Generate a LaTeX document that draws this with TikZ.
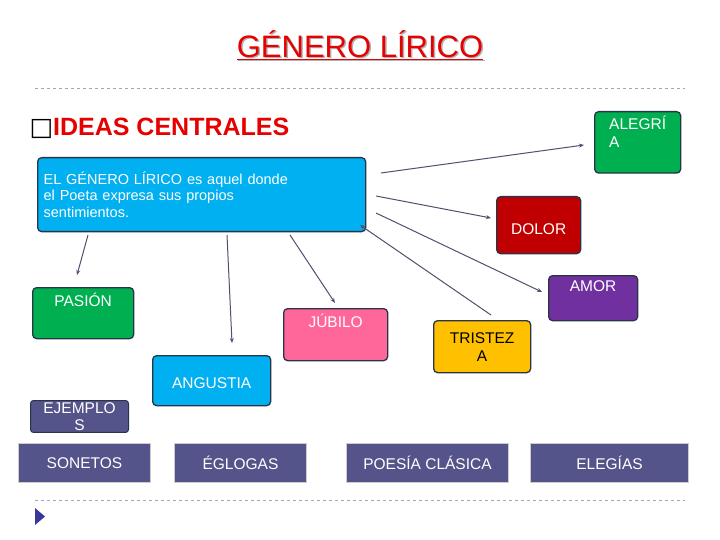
\documentclass[tikz,border=0pt]{standalone}
\usepackage{fontspec}
\setmainfont{Liberation Sans}
\newfontfamily\symfont{DejaVu Sans}
\usetikzlibrary{arrows.meta}
\definecolor{my-cyan}{RGB}{0,176,240}
\definecolor{my-green}{RGB}{0,176,80}
\definecolor{my-red}{RGB}{192,0,0}
\definecolor{my-purple}{RGB}{112,48,160}
\definecolor{my-pink}{RGB}{255,102,153}
\definecolor{my-yellow}{RGB}{255,192,0}
\definecolor{my-slate}{RGB}{84,84,138}
\definecolor{my-border}{RGB}{40,52,72}
\definecolor{my-line}{RGB}{80,80,110}
\definecolor{my-title}{RGB}{230,0,0}
\begin{document}
\begin{tikzpicture}[x=1pt, y=-1pt,
    box/.style={
        draw=my-border, line width=1.3pt, rounded corners=4pt,
        anchor=north west, inner sep=4pt, text=white,
        font=\fontsize{15.5}{18}\selectfont, align=center
    }, ex/.style={
        draw=gray!40, line width=1pt, fill=my-slate, text=white,
        anchor=north west, inner sep=2pt, font=\fontsize{15.5}{18}\selectfont
    }, pil/.style={
        -{Stealth[length=5pt, width=4pt]}, draw=my-line, line width=1pt
    }, sep/.style={
        dashed, draw=gray!70, line width=0.6pt
    }]
    \useasboundingbox[fill=white] (0,0) rectangle (720,540);

    % title
    \node[text=gray!60, font=\fontsize{31}{36}\selectfont] at (361.5,46.5) {\underline{GÉNERO LÍRICO}};
    \node[text=my-title, font=\fontsize{31}{36}\selectfont] (title) at (360,45) {\underline{GÉNERO LÍRICO}};
    \draw[sep] (35,88) -- (685,88);
    \node[anchor=west, font=\bfseries\fontsize{25}{28}\selectfont, text=my-title] (ideas) at (26,128)
        {\textcolor{black}{\symfont\mdseries □}IDEAS CENTRALES};

    %%% central box
    \node[box, fill=my-cyan, minimum width=328pt, minimum height=74pt, text width=316pt, align=left,
        font=\fontsize{14.5}{16.5}\selectfont] (main) at (37,157)
        {EL GÉNERO LÍRICO es aquel donde\\el Poeta expresa sus propios\\sentimientos.\\[5pt]};

    %%% feelings
    \node[box, fill=my-green, minimum width=86pt, minimum height=50pt, align=left] (alegria) at (594,111) {ALEGRÍ\\A\\[4pt]};
    \node[box, fill=my-red, minimum width=84pt, minimum height=57pt] (dolor) at (496,196) {\\[0pt]DOLOR};
    \node[box, fill=my-purple, minimum width=89pt, minimum height=45pt] (amor) at (548,275) {AMOR\\[6pt]};
    \node[box, fill=my-green, minimum width=101pt, minimum height=51pt, align=left] (pasion) at (32,287) {PASIÓN\\[8pt]};
    \node[box, fill=my-pink, minimum width=104pt, minimum height=52pt] (jubilo) at (283,308) {JÚBILO\\[10pt]};
    \node[box, fill=my-yellow, text=black, minimum width=97pt, minimum height=52pt] (tristeza) at (433,320) {TRISTEZ\\A};
    \node[box, fill=my-cyan, minimum width=118pt, minimum height=50pt] (angustia) at (152,355) {\\[-2pt]ANGUSTIA};

    %%% examples
    \node[ex, draw=my-border, minimum width=98pt, minimum height=28pt, rounded corners=3pt, align=center,
        font=\fontsize{15.5}{17}\selectfont] (ejemplos) at (30,400) {EJEMPLO\\S};
    \node[ex, minimum width=132pt, minimum height=39pt] (sonetos) at (18,443) {SONETOS};
    \node[ex, minimum width=132pt, minimum height=39pt] (eglogas) at (174,443) {ÉGLOGAS};
    \node[ex, minimum width=162pt, minimum height=39pt] (poesia) at (346,443) {POESÍA CLÁSICA};
    \node[ex, minimum width=158pt, minimum height=39pt] (elegias) at (530,443) {ELEGÍAS};

    \draw[sep] (35,500) -- (685,500);
    \fill[my-line!70!blue] (35,508) -- (45,516.5) -- (35,525) -- cycle;

    %%% connectors
    \coordinate (a1) at (381,173); \coordinate (a2) at (584,145);
    \coordinate (d1) at (376,196); \coordinate (d2) at (491,218);
    \coordinate (m1) at (376,213); \coordinate (m2) at (542,292);
    \coordinate (t1) at (491,315); \coordinate (t2) at (360,225);
    \coordinate (j1) at (290,235); \coordinate (j2) at (335,303);
    \coordinate (g1) at (227,235); \coordinate (g2) at (232,343);
    \coordinate (p1) at (88,235); \coordinate (p2) at (77,275);
    \draw[pil] (a1) -- (a2);
    \draw[pil] (d1) -- (d2);
    \draw[pil] (m1) -- (m2);
    \draw[pil] (t1) -- (t2);
    \draw[pil] (j1) -- (j2);
    \draw[pil] (g1) -- (g2);
    \draw[pil] (p1) -- (p2);
\end{tikzpicture}
\end{document}
